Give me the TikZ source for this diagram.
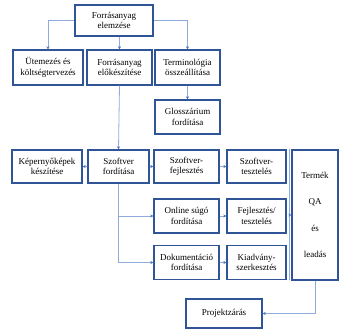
\documentclass[tikz,border=0pt]{standalone}
\usepackage{fontspec}
\setmainfont{Liberation Serif}
\usepackage{tikz}
\usetikzlibrary{positioning,arrows.meta,calc}

\definecolor{boxblue}{HTML}{2F5597}
\definecolor{lineblue}{HTML}{8FAADC}
\definecolor{tipblue}{HTML}{4472C4}

\begin{document}
\begin{tikzpicture}[
    x=1pt, y=-1pt,
    >={Stealth[length=3pt,width=3pt,color=tipblue]},
    font=\fontsize{9}{10.5}\selectfont,
    every path/.style={line width=0.8pt},
    block/.style={
        draw=boxblue,
        line width=1.3pt,
        minimum width=65pt,
        minimum height=34pt,
        inner sep=1pt,
        align=center
    },
    link/.style={draw=lineblue, line width=0.8pt}
]
\useasboundingbox (0,0) rectangle (350,331);

\node[block, minimum width=78pt, minimum height=31pt] (elem) at (114,20.5) {Forrásanyag\\elemzése};

\node[block, minimum width=70pt, minimum height=35pt] (utem) at (48,67.5) {Ütemezés és\\költségtervezés};
\node[block, minimum height=35pt] (prep) at (119.5,67.5) {Forrásanyag\\előkészítése};
\node[block, minimum height=35pt] (term) at (187.5,67.5) {Terminológia\\összeállítása};
\node[block] (glos) at (187.5,117) {Glosszárium\\fordítása};

\node[block, minimum width=70pt, minimum height=33pt] (kep) at (47,166.5) {Képernyőképek\\készítése};
\node[block, minimum width=61pt, minimum height=33pt] (szf) at (118.5,166.5) {Szoftver\\fordítása};
\node[block, minimum height=33pt] (fejl) at (186.5,166.5) {Szoftver-\\fejlesztés};
\node[block, minimum width=59pt, minimum height=33pt] (tesz) at (256.5,166.5) {Szoftver-\\tesztelés};

\node[block] (onl) at (186.5,216) {Online súgó\\fordítása};
\node[block, minimum width=59pt] (fte) at (256.5,216) {Fejlesztés/\\tesztelés};
\node[block] (dok) at (186.5,262.5) {Dokumentáció\\fordítása};
\node[block, minimum width=59pt] (kiad) at (256.5,262.5) {Kiadvány-\\szerkesztés};

\node[block, minimum width=46pt, minimum height=130pt] (qa) at (315,215)
    {Termék\\[16pt]QA\\[16pt]és\\[16pt]leadás};

\node[block, minimum width=76pt, minimum height=29pt] (proj) at (224,313.5) {Projektzárás};

% top level
\draw[link,->] (elem.west) -| (utem.north);
\draw[link,->] (elem.south -| prep.north) -- (prep.north);
\draw[link,->] (elem.east) -| (term.north);
\draw[link,->] (term.south) -- (glos.north);

% translation branch
\draw[link,->] (prep.south) -- (szf.north);
\draw[link,->] (szf.west) -- (kep.east);
\draw[link,->] (szf.east) -- (fejl.west);
\draw[link,->] (fejl.east) -- (tesz.west);
\draw[link,->] (szf.south) |- (dok.west);
\draw[link,->] (szf.south |- onl.west) -- (onl.west);
\draw[link,->] (onl.east) -- (fte.west);
\draw[link,->] (dok.east) -- (kiad.west);

% collect into QA
\coordinate (brT) at ($(tesz.north east)+(2.5,0)$);
\coordinate (brB) at ($(kiad.south east)+(2.5,0)$);
\draw[link] (brT) -- (brB);
\draw[link,->] (brT |- qa.west) -- (qa.west);

\draw[link,->] (qa.south) |- (proj.east);

\end{tikzpicture}
\end{document}
